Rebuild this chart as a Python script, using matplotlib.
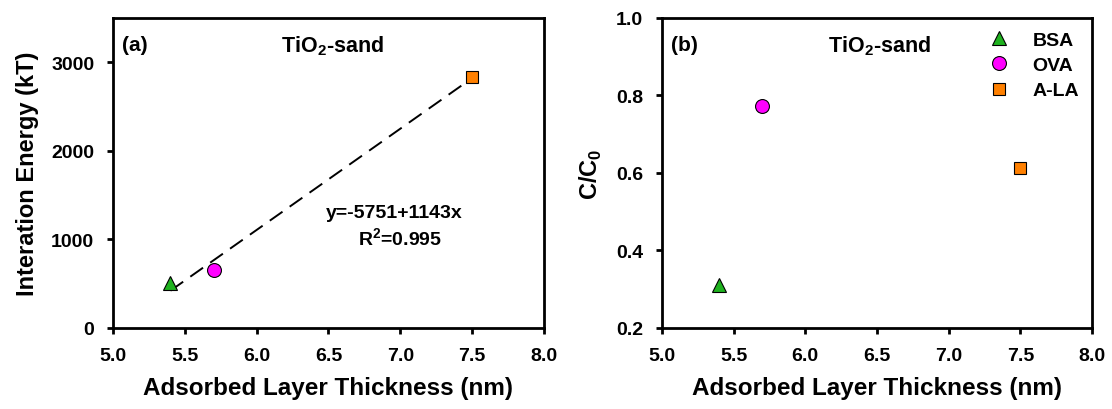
import numpy as np
import matplotlib.pyplot as plt

plt.rcParams['font.family'] = ['Liberation Sans', 'DejaVu Sans']
plt.rcParams['font.weight'] = 'bold'
plt.rcParams['mathtext.fontset'] = 'custom'
plt.rcParams['mathtext.rm'] = 'Liberation Sans:bold'
plt.rcParams['mathtext.bf'] = 'Liberation Sans:bold'

# adsorbed layer thickness (nm) for each protein
proteins = ['BSA', 'OVA', 'A-LA']
thickness = [5.4, 5.7, 7.5]
energy = [510, 660, 2835]        # interaction energy (kT)
c_ratio = [0.311, 0.774, 0.613]  # C/C0

markers = ['^', 'o', 's']
colors = ['#1fb21f', '#ff00ff', '#ff8000']
sizes = [10, 10, 9.2]

# linear fit for panel (a)
fit_a, fit_b = -5751, 1143

fig = plt.figure(figsize=(11.12, 4.10), dpi=100)
ax1 = fig.add_axes([0.1016, 0.1976, 0.3876, 0.7561])
ax2 = fig.add_axes([0.5953, 0.1976, 0.3867, 0.7561])

for ax in (ax1, ax2):
    for s in ax.spines.values():
        s.set_linewidth(2.0)
    ax.tick_params(direction='out', length=4.5, width=2.0, pad=9,
                   labelsize=14, top=False, right=False)
    ax.set_xlim(5.0, 8.0)
    xt = np.arange(5.0, 8.01, 0.5)
    ax.set_xticks(xt)
    ax.set_xticklabels(['%.1f' % v for v in xt], fontweight='bold')
    ax.set_xlabel('Adsorbed Layer Thickness (nm)', fontsize=17.5,
                  fontweight='bold', labelpad=9)

# panel (a)
xs = np.array([thickness[0], thickness[-1]])
ax1.plot(xs, fit_a + fit_b * xs, color='black', lw=1.4, dashes=(8, 4.5))
for i in range(3):
    ax1.plot(thickness[i], energy[i], marker=markers[i], color=colors[i],
             markersize=sizes[i], markeredgecolor='black',
             markeredgewidth=0.8, linestyle='none')
ax1.set_ylim(0, 3500)
ax1.set_yticks([0, 1000, 2000, 3000])
ax1.set_yticklabels(['0', '1000', '2000', '3000'], fontweight='bold')
ax1.set_ylabel('Interation Energy (kT)', fontsize=17, fontweight='bold',
               labelpad=9)
ax1.text(0.021, 0.913, '(a)', transform=ax1.transAxes, fontsize=15,
         fontweight='bold', va='center')
ax1.text(0.508, 0.913, 'TiO$_{2}$-sand', transform=ax1.transAxes,
         fontsize=15.5, fontweight='bold', ha='center', va='center')
ax1.text(6.96, 1300, 'y=-5751+1143x', fontsize=14, fontweight='bold',
         ha='center', va='center')
ax1.text(7.0, 1020, 'R$^{2}$=0.995', fontsize=14, fontweight='bold',
         ha='center', va='center')

# panel (b)
for i in range(3):
    ax2.plot(thickness[i], c_ratio[i], marker=markers[i], color=colors[i],
             markersize=sizes[i], markeredgecolor='black',
             markeredgewidth=0.8, linestyle='none', label=proteins[i])
ax2.set_ylim(0.2, 1.0)
yt = [0.2, 0.4, 0.6, 0.8, 1.0]
ax2.set_yticks(yt)
ax2.set_yticklabels(['%.1f' % v for v in yt], fontweight='bold')
ax2.set_ylabel('C/C$_{0}$', fontsize=17, fontweight='bold', labelpad=9)
ax2.text(0.021, 0.913, '(b)', transform=ax2.transAxes, fontsize=15,
         fontweight='bold', va='center')
ax2.text(0.506, 0.913, 'TiO$_{2}$-sand', transform=ax2.transAxes,
         fontsize=15.5, fontweight='bold', ha='center', va='center')
leg = ax2.legend(loc='upper right', frameon=False, fontsize=14,
                 handlelength=1.2, handletextpad=1.1, labelspacing=0.4,
                 borderpad=0, borderaxespad=0,
                 bbox_to_anchor=(0.970, 0.958))
for t in leg.get_texts():
    t.set_fontweight('bold')

fig.savefig('out.png', dpi=100)
